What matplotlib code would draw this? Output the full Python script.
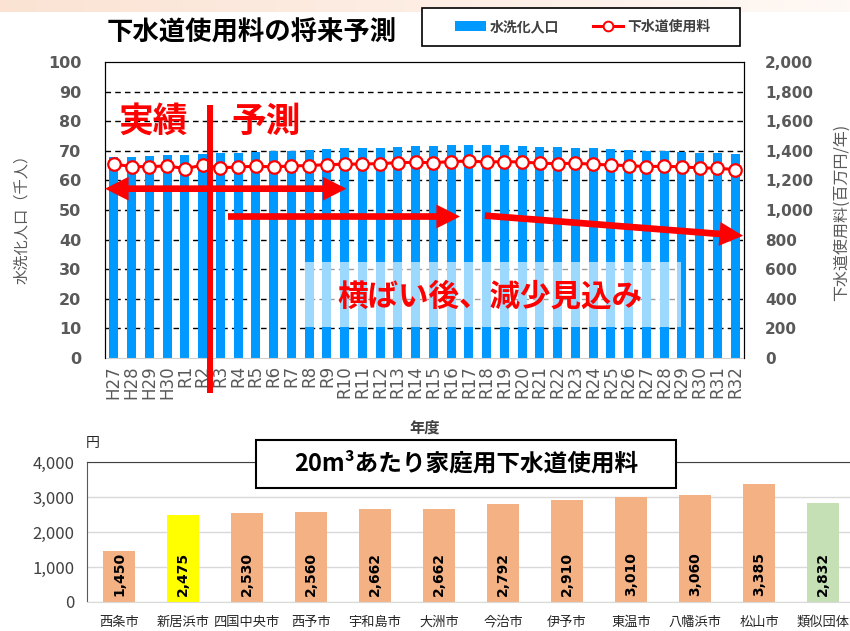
import numpy as np
import matplotlib
matplotlib.use('Agg')
import matplotlib.pyplot as plt
from matplotlib.patches import Rectangle, Patch, FancyArrowPatch
from matplotlib.lines import Line2D
from matplotlib.ticker import FuncFormatter

plt.rcParams['font.family'] = ['Noto Sans CJK JP', 'DejaVu Sans']

# ---- data: top chart ----
years = ['H27', 'H28', 'H29', 'H30', 'R1', 'R2', 'R3', 'R4', 'R5', 'R6', 'R7', 'R8',
         'R9', 'R10', 'R11', 'R12', 'R13', 'R14', 'R15', 'R16', 'R17', 'R18', 'R19', 'R20',
         'R21', 'R22', 'R23', 'R24', 'R25', 'R26', 'R27', 'R28', 'R29', 'R30', 'R31', 'R32']
population = [67.8, 68.0, 68.1, 68.7, 68.7, 68.9, 69.2, 69.4, 69.7, 69.9, 70.1, 70.3,
              70.6, 70.9, 70.9, 71.1, 71.4, 71.7, 71.5, 71.9, 71.9, 71.9, 71.9, 71.6,
              71.3, 71.3, 71.1, 70.8, 70.6, 70.3, 70.0, 69.8, 69.6, 69.4, 69.1, 68.8]
fee = [1311, 1293, 1293, 1298, 1280, 1302, 1285, 1291, 1296, 1291, 1298, 1300,
       1307, 1309, 1311, 1313, 1320, 1322, 1320, 1327, 1331, 1324, 1327, 1324,
       1316, 1313, 1316, 1309, 1304, 1300, 1293, 1296, 1291, 1285, 1282, 1273]

# ---- data: bottom chart ----
cities = ['西条市', '新居浜市', '四国中央市', '西予市', '宇和島市', '大洲市',
          '今治市', '伊予市', '東温市', '八幡浜市', '松山市', '類似団体']
charges = [1450, 2475, 2530, 2560, 2662, 2662, 2792, 2910, 3010, 3060, 3385, 2832]
bar_colors = ['#F4B183', '#FFFF00', '#F4B183', '#F4B183', '#F4B183', '#F4B183',
              '#F4B183', '#F4B183', '#F4B183', '#F4B183', '#F4B183', '#C5E0B4']

W, H = 850, 631
fig = plt.figure(figsize=(8.5, 6.31), dpi=100)

# peach band at the very top (slide background)
band = fig.add_axes([0, 1 - 12 / H, 1, 12 / H])
grad = np.linspace(0, 1, 256).reshape(1, -1)
c0 = np.array([0.985, 0.89, 0.83])
c1 = np.array([1.0, 0.975, 0.96])
band.imshow((c0[None, None, :] * (1 - grad[..., None]) + c1[None, None, :] * grad[..., None]),
            aspect='auto', extent=[0, 1, 0, 1])
band.axis('off')

gray = '#595959'

# ================= top chart =================
ax = fig.add_axes([105 / W, 1 - 358 / H, 639 / W, 296 / H])
x = np.arange(len(years))
ax.bar(x, population, width=0.5, color='#0099FF', zorder=2)
ax.set_xlim(-0.5, len(years) - 0.5)
ax.set_ylim(0, 100)
ax.set_yticks(range(0, 101, 10))
for v in range(10, 100, 10):
    ax.axhline(v, color='black', lw=1.0, ls=(0, (4, 3)), zorder=1)
ax.set_xticks(x)
ax.set_xticklabels(years, rotation=90)
ax.tick_params(axis='x', length=0, pad=5, labelsize=12, labelcolor=gray,
               labelfontfamily='DejaVu Sans')
ax.tick_params(axis='y', length=0, pad=17, labelsize=11.5, labelcolor=gray,
               labelfontfamily='DejaVu Sans')
for lab in ax.get_yticklabels():
    lab.set_fontweight('bold')
for s in ['top', 'left', 'right']:
    ax.spines[s].set_color('black')
ax.spines['bottom'].set_color('#D0D0D0')

# light overlay box behind the annotation text
ax.add_patch(Rectangle((10.71, 10.5), 21.24, 21.8, facecolor='white', alpha=0.62,
                       edgecolor='none', zorder=3))

ax2 = ax.twinx()
ax2.plot(x, fee, color='red', lw=2.2, marker='o', markersize=9, markerfacecolor='white',
         markeredgecolor='red', markeredgewidth=1.6, zorder=5)
ax2.set_ylim(0, 2000)
ax2.set_yticks(range(0, 2001, 200))
ax2.yaxis.set_major_formatter(FuncFormatter(lambda v, p: f'{int(v):,}'))
ax2.tick_params(axis='y', length=0, pad=15, labelsize=11, labelcolor=gray,
                labelfontfamily='DejaVu Sans')
for lab in ax2.get_yticklabels():
    lab.set_fontweight('bold')
ax2.spines['bottom'].set_visible(False)

# annotations
ax2.plot([5.42, 5.42], [1710, -236], color='red', lw=4.3, clip_on=False,
         solid_capstyle='butt', zorder=6)
ax2.text(2.2, 1600, '実績', color='red', fontsize=25, weight='bold', ha='center', va='center', zorder=7)
ax2.text(8.55, 1600, '予測', color='red', fontsize=25, weight='bold', ha='center', va='center', zorder=7)
ax2.text(21.2, 418, '横ばい後、減少見込み', color='red', fontsize=22, weight='bold',
         ha='center', va='center', zorder=7)

arrow_style = 'simple,head_length=0.85,head_width=0.86,tail_width=0.24'
def red_arrow(p0, p1):
    a = FancyArrowPatch(p0, p1, arrowstyle=arrow_style, mutation_scale=20,
                        color='red', lw=0, shrinkA=0, shrinkB=0, clip_on=False, zorder=7)
    ax2.add_patch(a)

red_arrow((6.3, 1144), (-0.5, 1144))
red_arrow((6.2, 1144), (13.1, 1144))
red_arrow((6.43, 956), (19.5, 956))
red_arrow((20.9, 962), (35.45, 826))

fig.text(107 / W, 1 - 33 / H, '下水道使用料の将来予測', fontsize=19, weight='bold',
         ha='left', va='center')
fig.text(22 / W, 1 - 215 / H, '水洗化人口（千人）', rotation=90, fontsize=11,
         color=gray, ha='center', va='center')
fig.text(841 / W, 1 - 212 / H, '下水道使用料(百万円/年)', rotation=90, fontsize=11.5,
         color=gray, ha='center', va='center')
fig.text(425 / W, 1 - 428 / H, '年度', fontsize=11, weight='bold', color='#404040',
         ha='center', va='center')

# legend
fig.add_artist(Rectangle((422 / W, 1 - 46 / H), 318 / W, 38 / H, transform=fig.transFigure,
                         facecolor='white', edgecolor='black', lw=1.2, zorder=4))
handles = [Patch(facecolor='#0099FF', edgecolor='none'),
           Line2D([], [], color='red', lw=2.2, marker='o', markersize=7,
                  markerfacecolor='white', markeredgecolor='red', markeredgewidth=1.4)]
leg = fig.legend(handles, ['水洗化人口', '下水道使用料'], loc='center',
                 bbox_to_anchor=(583 / W, 1 - 27 / H), ncol=2, frameon=False,
                 handlelength=2.2, handletextpad=0.3, columnspacing=2.4,
                 prop={'weight': 'bold', 'size': 10})
for t in leg.get_texts():
    t.set_color('#404040')
leg.set_zorder(5)

# ================= bottom chart =================
bx = fig.add_axes([87 / W, 1 - 602 / H, 768 / W, 140 / H])
xb = np.arange(len(cities))
bx.bar(xb, charges, width=0.5, color=bar_colors, zorder=2)
bx.set_xlim(-0.5, len(cities) - 0.5)
bx.set_ylim(0, 4000)
bx.set_yticks(range(0, 4001, 1000))
bx.yaxis.set_major_formatter(FuncFormatter(lambda v, p: f'{int(v):,}'))
bx.yaxis.grid(True, color='#D9D9D9', lw=1, zorder=0)
bx.set_axisbelow(True)
bx.set_xticks(xb)
bx.set_xticklabels(cities, fontsize=9.5, color='#262626')
bx.tick_params(axis='x', length=0, pad=10)
bx.tick_params(axis='y', length=0, pad=9, labelsize=12, labelcolor='#404040')
bx.spines['right'].set_visible(False)
bx.spines['bottom'].set_color('#D9D9D9')
bx.spines['left'].set_color('#595959')
bx.spines['top'].set_color('#404040')
for xi, v in zip(xb, charges):
    bx.text(xi, 800, f'{v:,}', rotation=90, ha='center', va='center', fontsize=10,
            weight='bold', family='DejaVu Sans', color='black', zorder=3)

fig.text(93 / W, 1 - 443 / H, '円', fontsize=10, color='#262626', ha='center', va='center')
fig.add_artist(Rectangle((256 / W, 1 - 488 / H), 420 / W, 48 / H, transform=fig.transFigure,
                         facecolor='white', edgecolor='black', lw=1.5, zorder=4))
fig.text(466 / W, 1 - 464 / H, '20m³あたり家庭用下水道使用料', fontsize=17, weight='bold',
         ha='center', va='center', zorder=5)

fig.savefig('out.png', dpi=100)
